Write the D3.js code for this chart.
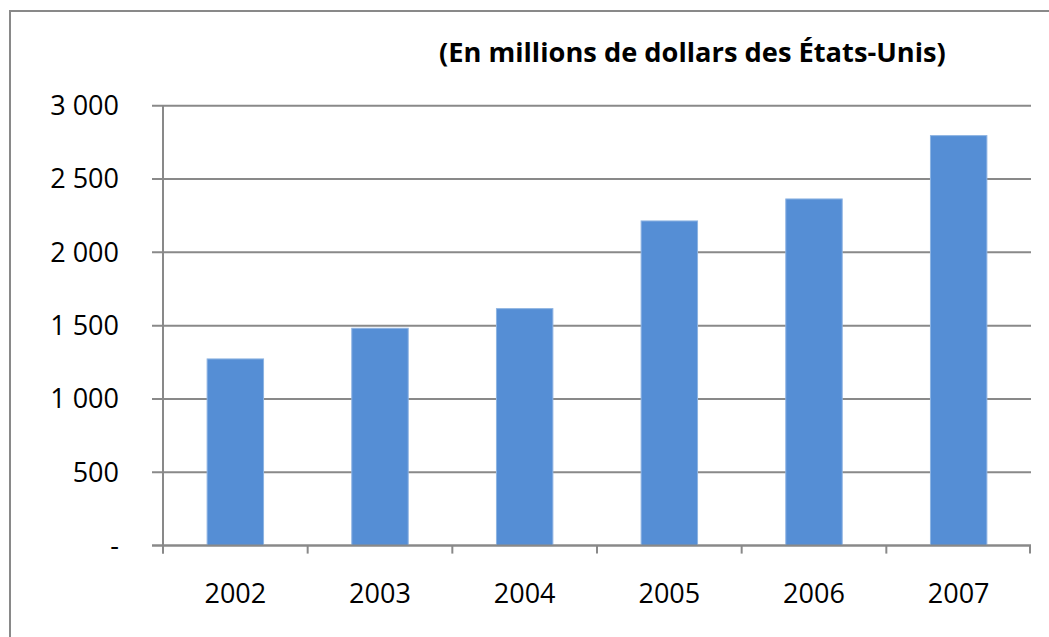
<!DOCTYPE html>
<html>
<head>
<meta charset="utf-8">
<script src="https://cdn.jsdelivr.net/npm/d3@7"></script>
<style>
  body { margin: 0; background: #fff; }
  text { font-family: "Open Sans", sans-serif; fill: #000; }
</style>
</head>
<body>
<div id="chart"></div>
<script>
var years = ["2002", "2003", "2004", "2005", "2006", "2007"];
var values = [1273, 1482, 1616, 2214, 2364, 2796];
var yTicks = [0, 500, 1000, 1500, 2000, 2500, 3000];
var title = "(En millions de dollars des États-Unis)";

function init() {
    var w = 1049;
    var h = 637;
    var margin = { top: 105.7, right: 18, bottom: 91.4, left: 163 };
    var width = w - margin.left - margin.right;
    var height = h - margin.top - margin.bottom;
    var grey = "#898989";

    var svg = d3.select("#chart")
        .append("svg")
        .attr("width", w)
        .attr("height", h);

    // chart frame (only top/left edges are inside the picture)
    svg.append("rect")
        .attr("x", 10)
        .attr("y", 11)
        .attr("width", w + 20)
        .attr("height", h + 20)
        .attr("fill", "none")
        .attr("stroke", grey)
        .attr("stroke-width", 2);

    var title_el = svg.append("text")
        .attr("x", 439)
        .attr("y", 62)
        .style("font-weight", "bold")
        .style("font-size", "21px")
        .text(title);
    var tl = title_el.node().getComputedTextLength();
    title_el.style("font-size", (21 * 507 / tl) + "px");

    var g = svg.append("g")
        .attr("transform", "translate(" + margin.left + "," + margin.top + ")");

    var xScale = d3.scaleBand()
        .domain(years)
        .range([0, width])
        .paddingInner(0.61)
        .paddingOuter(0.305);

    var yScale = d3.scaleLinear()
        .domain([0, 3000])
        .range([height, 0]);

    var loc = d3.formatLocale({ decimal: ",", thousands: " ", grouping: [3], currency: ["", ""] });
    var fmt = loc.format(",");

    // gridlines
    g.selectAll(".grid")
        .data(yTicks)
        .enter().append("line")
        .attr("class", "grid")
        .attr("x1", -11)
        .attr("x2", width)
        .attr("y1", function(d) { return yScale(d); })
        .attr("y2", function(d) { return yScale(d); })
        .attr("stroke", grey)
        .attr("stroke-width", 2);

    // y labels
    g.selectAll(".ylab")
        .data(yTicks)
        .enter().append("text")
        .attr("class", "ylab")
        .attr("x", -44)
        .attr("y", function(d) { return yScale(d); })
        .attr("dy", "0.35em")
        .attr("text-anchor", "end")
        .style("font-size", "27px")
        .text(function(d) { return d === 0 ? "-" : fmt(d); });

    // bars
    g.selectAll(".bar")
        .data(values)
        .enter().append("rect")
        .attr("class", "bar")
        .attr("x", function(d, i) { return xScale(years[i]); })
        .attr("width", xScale.bandwidth())
        .attr("y", function(d) { return yScale(d); })
        .attr("height", function(d) { return height - yScale(d); })
        .attr("fill", "#558ED5")
        .attr("stroke", "#8DB3E2")
        .attr("stroke-width", 1);

    // y axis line
    g.append("line")
        .attr("x1", 0).attr("x2", 0)
        .attr("y1", 0).attr("y2", height + 8)
        .attr("stroke", grey)
        .attr("stroke-width", 2);

    // x axis line and ticks at category boundaries
    g.append("line")
        .attr("x1", -11).attr("x2", width)
        .attr("y1", height).attr("y2", height)
        .attr("stroke", grey)
        .attr("stroke-width", 2);

    var step = xScale.step();
    g.selectAll(".xtick")
        .data(d3.range(years.length + 1))
        .enter().append("line")
        .attr("class", "xtick")
        .attr("x1", function(d) { return Math.min(d * step, width - 1); })
        .attr("x2", function(d) { return Math.min(d * step, width - 1); })
        .attr("y1", height)
        .attr("y2", height + 8)
        .attr("stroke", grey)
        .attr("stroke-width", 2);

    g.selectAll(".xlab")
        .data(years)
        .enter().append("text")
        .attr("class", "xlab")
        .attr("x", function(d) { return xScale(d) + xScale.bandwidth() / 2; })
        .attr("y", height + 47.5)
        .attr("dy", "0.35em")
        .attr("text-anchor", "middle")
        .style("font-size", "27px")
        .text(function(d) { return d; });
}

window.onload = init;
</script>
</body>
</html>
